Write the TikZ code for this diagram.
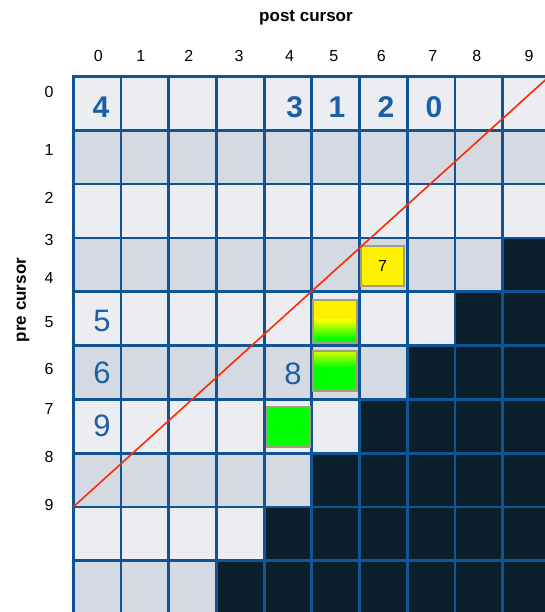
\documentclass[tikz,border=0pt]{standalone}
\usepackage{fontspec}
\setmainfont{Liberation Sans}
\definecolor{cellA}{HTML}{EBEDF1}
\definecolor{cellB}{HTML}{D5DAE2}
\definecolor{cellD}{HTML}{0C1F2D}
\definecolor{gridblue}{HTML}{0F5595}
\definecolor{numblue}{HTML}{1B60A6}
\definecolor{boxedge}{HTML}{A49E80}
\definecolor{redline}{HTML}{FF2A00}
\definecolor{ygreen}{HTML}{00FF00}
\begin{document}
\begin{tikzpicture}[x=1pt,y=-1pt,
  gridline/.style={draw=gridblue,line width=2.8pt,line cap=rect},
  axislabel/.style={font=\fontsize{16}{19}\selectfont,text=black},
  bignum/.style={font=\bfseries\fontsize{30}{34}\selectfont,text=numblue},
  midnum/.style={font=\fontsize{31}{35}\selectfont,text=numblue},
  sqbox/.style={draw=boxedge,line width=2pt,inner sep=0pt},
  title/.style={font=\bfseries\fontsize{17}{20}\selectfont,text=black}]
\useasboundingbox (0,0) rectangle (545,612);
\begin{scope}
\clip (0,0) rectangle (545,612);
% cells
\foreach \r in {0,...,9}{\foreach \c in {0,...,9}{
  \pgfmathtruncatemacro\k{(\c+\r>=12)?2:mod(\r,2)}
  \ifcase\k \def\cc{cellA}\or \def\cc{cellB}\else \def\cc{cellD}\fi
  \fill[\cc] ({73.3+47.7*\c},{76.5+53.8*\r}) rectangle ++(47.7,53.8);
}}
% grid lines
\foreach \c in {0,...,10}
  \draw[gridline] ({73.3+47.7*\c},76.5) -- ({73.3+47.7*\c},620);
\foreach \r in {0,...,10}
  \draw[gridline] (73.3,{76.5+53.8*\r}) -- (560,{76.5+53.8*\r});
% coloured squares
\fill[yellow] (313,300) rectangle (357,320);
\shade[top color=yellow,bottom color=ygreen] (313,319.5) rectangle (357,338.5);
\fill[ygreen] (313,338) rectangle (357,343);
\node[sqbox,minimum width=44pt,minimum height=43pt] (b1) at (335,321.5) {};
\shade[top color=yellow!85!ygreen,bottom color=ygreen] (313,351) rectangle (357,367.5);
\fill[ygreen] (313,367) rectangle (357,391);
\node[sqbox,minimum width=44pt,minimum height=40pt] (b2) at (335,371) {};
\node[sqbox,fill=ygreen,minimum width=43pt,minimum height=40pt] (b3) at (288.5,427) {};
\node[sqbox,fill=yellow,minimum width=43pt,minimum height=40pt,
  font=\fontsize{16}{19}\selectfont] (b7) at (382.5,266) {7};
% red line
\coordinate (rl1) at (73.3,506.9);
\coordinate (rl2) at (560,66.7);
\draw[redline,line width=1.6pt] (rl1) -- (rl2);
\end{scope}
% titles
\node[title] (pc) at (306,18) {post cursor};
\node[title,rotate=90] (prc) at (23,300) {pre cursor};
% column labels
\foreach \x/\t in {98.4/0,140.8/1,188.7/2,239/3,289.5/4,333.7/5,381.3/6,432.7/7,476.9/8,529/9}
  \node[axislabel] (col\t) at (\x,56) {\t};
% row labels
\foreach \y/\t in {92/0,150/1,198/2,240/3,278/4,322/5,369/6,409/7,457/8,505/9}
  \node[axislabel] (row\t) at (49,\y) {\t};
% numbers in cells
\node[bignum] (n4) at (101,107) {4};
\node[bignum] (n3) at (294.7,107) {3};
\node[bignum] (n1) at (337,107) {1};
\node[bignum] (n2) at (386,107) {2};
\node[bignum] (n0) at (434,107) {0};
\node[midnum] (n5) at (102,321) {5};
\node[midnum] (n6) at (102,373) {6};
\node[midnum] (n9) at (102,426) {9};
\node[midnum] (n8) at (293,374) {8};
\end{tikzpicture}
\end{document}
